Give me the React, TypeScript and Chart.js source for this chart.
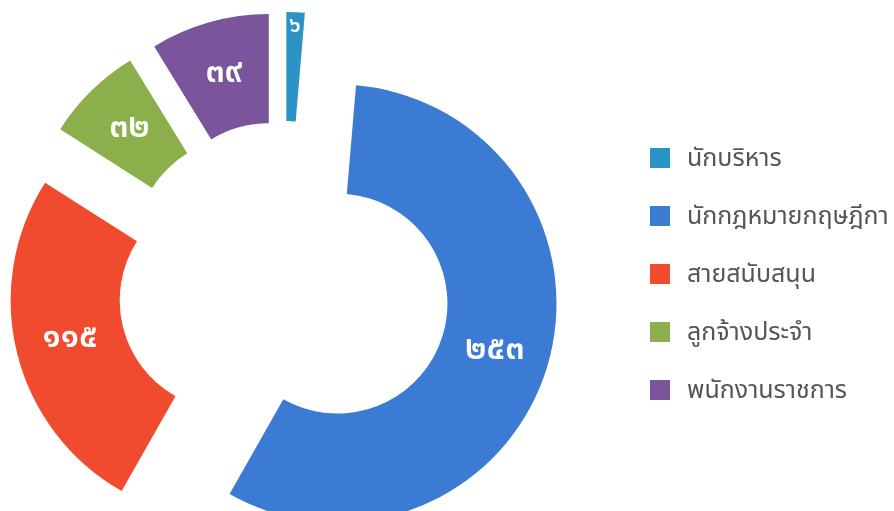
import React, { useEffect, useRef } from 'react';
import { Chart, registerables } from 'chart.js';

Chart.register(...registerables);

const categories = ['นักบริหาร', 'นักกฎหมายกฤษฎีกา', 'สายสนับสนุน', 'ลูกจ้างประจำ', 'พนักงานราชการ'];
const values = [6, 253, 115, 32, 39];
const valueLabels = ['๖', '๒๕๓', '๑๑๕', '๓๒', '๓๙'];
const colors = ['#2C94C4', '#3B7BD4', '#F14B2F', '#8BAF4B', '#7B559C'];

const EXPLODE = 56;
const FONT = "'Noto Sans Thai', 'Noto Sans', sans-serif";

const explodePlugin = {
  id: 'explodeSlices',
  beforeDatasetDraw(chart: any, args: any) {
    const ctx = chart.ctx;
    args.meta.data.forEach((arc: any) => {
      const mid = (arc.startAngle + arc.endAngle) / 2;
      ctx.save();
      ctx.translate(Math.cos(mid) * EXPLODE, Math.sin(mid) * EXPLODE);
      arc.draw(ctx, chart.chartArea);
      ctx.restore();
    });
    return false;
  },
  afterDatasetsDraw(chart: any) {
    const ctx = chart.ctx;
    const meta = chart.getDatasetMeta(0);
    const total = values.reduce((a, b) => a + b, 0);
    meta.data.forEach((arc: any, i: number) => {
      const small = values[i] / total < 0.03;
      const mid = (arc.startAngle + arc.endAngle) / 2;
      const frac = small ? 0.86 : 0.5;
      const r = arc.innerRadius + (arc.outerRadius - arc.innerRadius) * frac + EXPLODE;
      const x = arc.x + Math.cos(mid) * r;
      const y = arc.y + Math.sin(mid) * r;
      ctx.save();
      ctx.fillStyle = '#ffffff';
      ctx.font = `600 ${small ? 22 : 34}px ${FONT}`;
      ctx.textAlign = 'center';
      ctx.textBaseline = 'middle';
      ctx.fillText(valueLabels[i], x, y);
      ctx.restore();
    });
  },
};

const htmlLegendPlugin = {
  id: 'htmlLegend',
  afterUpdate(chart: any, _args: any, opts: any) {
    const list: HTMLElement | null = document.getElementById(opts.containerID);
    if (!list) return;
    while (list.firstChild) list.firstChild.remove();
    const items = chart.options.plugins.legend.labels.generateLabels(chart);
    items.forEach((item: any) => {
      const row = document.createElement('div');
      row.style.display = 'flex';
      row.style.alignItems = 'center';
      row.style.height = '20px';
      row.style.marginBottom = '38px';
      const box = document.createElement('span');
      box.style.display = 'inline-block';
      box.style.width = '20px';
      box.style.height = '20px';
      box.style.background = item.fillStyle;
      box.style.flexShrink = '0';
      const text = document.createElement('span');
      text.textContent = item.text;
      text.style.marginLeft = '17px';
      text.style.font = `25px ${FONT}`;
      text.style.lineHeight = '20px';
      text.style.color = '#555555';
      text.style.whiteSpace = 'nowrap';
      row.appendChild(box);
      row.appendChild(text);
      list.appendChild(row);
    });
  },
};

export default function App() {
  const ref = useRef<HTMLCanvasElement>(null);
  useEffect(() => {
    document.body.style.margin = '0';
    const chart = new Chart(ref.current!, {
      type: 'doughnut',
      data: {
        labels: categories,
        datasets: [{ data: values, backgroundColor: colors, borderWidth: 0 }],
      },
      options: {
        responsive: false,
        animation: false,
        radius: 219,
        cutout: '50.2%',
        layout: { padding: { left: 0, right: 326, top: 63, bottom: 0 } },
        plugins: {
          tooltip: { enabled: false },
          legend: { display: false },
          htmlLegend: { containerID: 'legend-box' },
        } as any,
      },
      plugins: [explodePlugin, htmlLegendPlugin],
    });
    return () => chart.destroy();
  }, []);
  return (
    <div style={{ width: 894, height: 511, position: 'relative', overflow: 'hidden' }}>
      <canvas ref={ref} width={894} height={511} />
      <div id="legend-box" style={{ position: 'absolute', left: 650, top: 148 }} />
    </div>
  );
}
